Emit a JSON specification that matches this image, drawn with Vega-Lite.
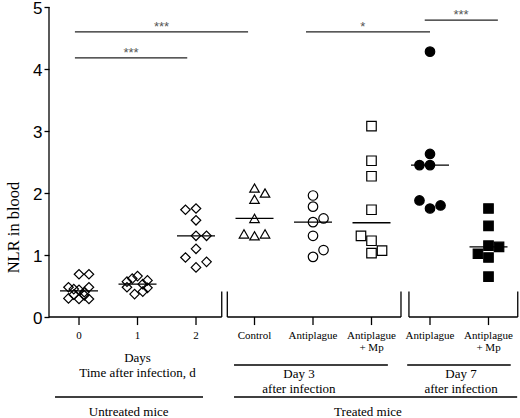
{
  "$schema": "https://vega.github.io/schema/vega-lite/v6.json",
  "description": "NLR in blood of untreated and treated mice, dot plot with medians.",
  "width": 466,
  "height": 418,
  "padding": {"left": 49, "top": 0, "right": 5, "bottom": 0},
  "autosize": {"type": "none"},
  "background": "white",
  "config": {
    "view": {"stroke": null},
    "axisY": {
      "domain": false, "grid": false,
      "tickSize": 5, "tickWidth": 1.3, "tickColor": "black",
      "labelFont": "Liberation Sans", "labelFontSize": 17, "labelColor": "black", "labelPadding": 2, "labelOffset": 1,
      "titleFont": "Liberation Serif", "titleFontSize": 16.5, "titleFontWeight": "normal", "titleColor": "black",
      "titleX": -36, "titleY": 227, "titleAngle": -90, "titleAlign": "center", "titleBaseline": "middle"
    }
  },
  "datasets": {
    "points": [
      {"grp": "Day 0", "g": 0, "x": 0.0, "y": 0.69},
      {"grp": "Day 0", "g": 0, "x": 0.17, "y": 0.69},
      {"grp": "Day 0", "g": 0, "x": -0.18, "y": 0.48},
      {"grp": "Day 0", "g": 0, "x": 0.17, "y": 0.48},
      {"grp": "Day 0", "g": 0, "x": -0.09, "y": 0.45},
      {"grp": "Day 0", "g": 0, "x": 0.0, "y": 0.44},
      {"grp": "Day 0", "g": 0, "x": 0.09, "y": 0.40},
      {"grp": "Day 0", "g": 0, "x": -0.09, "y": 0.36},
      {"grp": "Day 0", "g": 0, "x": 0.09, "y": 0.35},
      {"grp": "Day 0", "g": 0, "x": -0.18, "y": 0.30},
      {"grp": "Day 0", "g": 0, "x": 0.0, "y": 0.29},
      {"grp": "Day 0", "g": 0, "x": 0.17, "y": 0.29},
      {"grp": "Day 1", "g": 1, "x": 0.91, "y": 0.62},
      {"grp": "Day 1", "g": 1, "x": 1.0, "y": 0.66},
      {"grp": "Day 1", "g": 1, "x": 1.17, "y": 0.59},
      {"grp": "Day 1", "g": 1, "x": 0.82, "y": 0.57},
      {"grp": "Day 1", "g": 1, "x": 1.09, "y": 0.53},
      {"grp": "Day 1", "g": 1, "x": 0.82, "y": 0.48},
      {"grp": "Day 1", "g": 1, "x": 1.17, "y": 0.47},
      {"grp": "Day 1", "g": 1, "x": 1.09, "y": 0.41},
      {"grp": "Day 1", "g": 1, "x": 0.95, "y": 0.37},
      {"grp": "Day 2", "g": 2, "x": 1.82, "y": 1.73},
      {"grp": "Day 2", "g": 2, "x": 2.0, "y": 1.75},
      {"grp": "Day 2", "g": 2, "x": 2.0, "y": 1.56},
      {"grp": "Day 2", "g": 2, "x": 2.0, "y": 1.31},
      {"grp": "Day 2", "g": 2, "x": 2.18, "y": 1.31},
      {"grp": "Day 2", "g": 2, "x": 2.0, "y": 1.10},
      {"grp": "Day 2", "g": 2, "x": 1.82, "y": 0.96},
      {"grp": "Day 2", "g": 2, "x": 2.18, "y": 0.89},
      {"grp": "Day 2", "g": 2, "x": 2.0, "y": 0.80},
      {"grp": "Control", "g": 3, "x": 3.0, "y": 2.08},
      {"grp": "Control", "g": 3, "x": 3.18, "y": 2.00},
      {"grp": "Control", "g": 3, "x": 3.0, "y": 1.90},
      {"grp": "Control", "g": 3, "x": 3.0, "y": 1.59},
      {"grp": "Control", "g": 3, "x": 2.82, "y": 1.34},
      {"grp": "Control", "g": 3, "x": 3.0, "y": 1.31},
      {"grp": "Control", "g": 3, "x": 3.18, "y": 1.34},
      {"grp": "Antiplague d3", "g": 4, "x": 4.0, "y": 1.96},
      {"grp": "Antiplague d3", "g": 4, "x": 4.0, "y": 1.78},
      {"grp": "Antiplague d3", "g": 4, "x": 4.18, "y": 1.59},
      {"grp": "Antiplague d3", "g": 4, "x": 4.0, "y": 1.53},
      {"grp": "Antiplague d3", "g": 4, "x": 4.0, "y": 1.31},
      {"grp": "Antiplague d3", "g": 4, "x": 4.18, "y": 1.08},
      {"grp": "Antiplague d3", "g": 4, "x": 4.0, "y": 0.97},
      {"grp": "Antiplague + Mp d3", "g": 5, "x": 5.0, "y": 3.08},
      {"grp": "Antiplague + Mp d3", "g": 5, "x": 5.0, "y": 2.52},
      {"grp": "Antiplague + Mp d3", "g": 5, "x": 5.0, "y": 2.27},
      {"grp": "Antiplague + Mp d3", "g": 5, "x": 5.0, "y": 1.73},
      {"grp": "Antiplague + Mp d3", "g": 5, "x": 4.82, "y": 1.31},
      {"grp": "Antiplague + Mp d3", "g": 5, "x": 5.0, "y": 1.23},
      {"grp": "Antiplague + Mp d3", "g": 5, "x": 5.18, "y": 1.07},
      {"grp": "Antiplague + Mp d3", "g": 5, "x": 5.0, "y": 1.03},
      {"grp": "Antiplague d7", "g": 6, "x": 6.0, "y": 4.28},
      {"grp": "Antiplague d7", "g": 6, "x": 6.0, "y": 2.63},
      {"grp": "Antiplague d7", "g": 6, "x": 5.82, "y": 2.45},
      {"grp": "Antiplague d7", "g": 6, "x": 6.0, "y": 2.45},
      {"grp": "Antiplague d7", "g": 6, "x": 5.82, "y": 1.88},
      {"grp": "Antiplague d7", "g": 6, "x": 6.18, "y": 1.80},
      {"grp": "Antiplague d7", "g": 6, "x": 6.0, "y": 1.75},
      {"grp": "Antiplague + Mp d7", "g": 7, "x": 7.0, "y": 1.75},
      {"grp": "Antiplague + Mp d7", "g": 7, "x": 7.0, "y": 1.47},
      {"grp": "Antiplague + Mp d7", "g": 7, "x": 7.0, "y": 1.15},
      {"grp": "Antiplague + Mp d7", "g": 7, "x": 7.18, "y": 1.13},
      {"grp": "Antiplague + Mp d7", "g": 7, "x": 6.82, "y": 1.02},
      {"grp": "Antiplague + Mp d7", "g": 7, "x": 7.0, "y": 0.96},
      {"grp": "Antiplague + Mp d7", "g": 7, "x": 7.0, "y": 0.65}
    ],
    "cats": [
      {"x": 0, "label": "0"},
      {"x": 1, "label": "1"},
      {"x": 2, "label": "2"},
      {"x": 3, "label": "Control"},
      {"x": 4, "label": "Antiplague"},
      {"x": 5, "label": "Antiplague\n+ Mp"},
      {"x": 6, "label": "Antiplague"},
      {"x": 7, "label": "Antiplague\n+ Mp"}
    ],
    "lines": [
      {"x": -0.513, "x2": -0.513, "y": 0, "y2": 5},
      {"x": -0.513, "x2": 2.44, "y": 0, "y2": 0},
      {"x": 2.44, "x2": 2.44, "y": 0, "y2": 0.41},
      {"x": 2.535, "x2": 5.504, "y": 0, "y2": 0},
      {"x": 2.535, "x2": 2.535, "y": 0, "y2": 0.41},
      {"x": 5.504, "x2": 5.504, "y": 0, "y2": 0.41},
      {"x": 5.64, "x2": 7.5, "y": 0, "y2": 0},
      {"x": 5.64, "x2": 5.64, "y": 0, "y2": 0.41},
      {"x": 7.5, "x2": 7.5, "y": 0, "y2": 0.41},
      {"x": -0.41, "x2": 2.12, "y": -1.29, "y2": -1.29},
      {"x": 2.65, "x2": 5.28, "y": -0.774, "y2": -0.774},
      {"x": 5.61, "x2": 7.38, "y": -0.774, "y2": -0.774},
      {"x": 2.65, "x2": 7.49, "y": -1.29, "y2": -1.29}
    ],
    "sig": [
      {"x": -0.07, "x2": 2.89, "y": 4.6, "mid": 1.41, "label": "***"},
      {"x": -0.07, "x2": 1.85, "y": 4.18, "mid": 0.89, "label": "***"},
      {"x": 3.88, "x2": 6.0, "y": 4.6, "mid": 4.85, "label": "*"},
      {"x": 5.91, "x2": 7.16, "y": 4.79, "mid": 6.53, "label": "***"}
    ],
    "notes": [
      {"x": 1.0, "y": -0.72, "label": "Days\nTime after infection, d"},
      {"x": 3.76, "y": -0.976, "label": "Day 3\nafter infection"},
      {"x": 6.53, "y": -0.976, "label": "Day 7\nafter infection"},
      {"x": 0.85, "y": -1.59, "label": "Untreated mice"},
      {"x": 4.94, "y": -1.59, "label": "Treated mice"}
    ]
  },
  "encoding": {
    "x": {"field": "x", "type": "quantitative", "scale": {"domain": [-0.513, 7.453], "nice": false, "zero": false}, "axis": null}
  },
  "layer": [
    {
      "data": {"name": "lines"},
      "mark": {"type": "rule", "color": "black", "strokeWidth": 1.3},
      "encoding": {
        "y": {"field": "y", "type": "quantitative", "title": "NLR in blood", "scale": {"domain": [-1.629, 5.113], "nice": false, "zero": false}, "axis": {"values": [0, 1, 2, 3, 4, 5]}},
        "x2": {"field": "x2"}, "y2": {"field": "y2"}
      }
    },
    {
      "data": {"name": "cats"},
      "mark": {"type": "rule", "color": "black", "strokeWidth": 1.3},
      "encoding": {
        "y": {"datum": 0, "type": "quantitative", "title": "NLR in blood", "scale": {"domain": [-1.629, 5.113], "nice": false, "zero": false}, "axis": {"values": [0, 1, 2, 3, 4, 5]}},
        "y2": {"datum": -0.13}
      }
    },
    {
      "data": {"name": "cats"},
      "mark": {"type": "text", "font": "Liberation Serif", "fontSize": 11, "color": "black", "align": "center", "baseline": "alphabetic", "lineBreak": "\n", "lineHeight": 12},
      "encoding": {
        "y": {"datum": -0.355, "type": "quantitative", "title": "NLR in blood", "scale": {"domain": [-1.629, 5.113], "nice": false, "zero": false}, "axis": {"values": [0, 1, 2, 3, 4, 5]}},
        "text": {"field": "label"}
      }
    },
    {
      "data": {"name": "notes"},
      "mark": {"type": "text", "font": "Liberation Serif", "fontSize": 13, "color": "black", "align": "center", "baseline": "alphabetic", "lineBreak": "\n", "lineHeight": 15.5},
      "encoding": {
        "y": {"field": "y", "type": "quantitative", "title": "NLR in blood", "scale": {"domain": [-1.629, 5.113], "nice": false, "zero": false}, "axis": {"values": [0, 1, 2, 3, 4, 5]}},
        "text": {"field": "label"}
      }
    },
    {
      "data": {"name": "sig"},
      "mark": {"type": "rule", "color": "#222222", "strokeWidth": 1.2},
      "encoding": {
        "y": {"field": "y", "type": "quantitative", "title": "NLR in blood", "scale": {"domain": [-1.629, 5.113], "nice": false, "zero": false}, "axis": {"values": [0, 1, 2, 3, 4, 5]}},
        "x2": {"field": "x2"}
      }
    },
    {
      "data": {"name": "sig"},
      "mark": {"type": "text", "font": "Liberation Sans", "fontSize": 13, "color": "#555555", "align": "center", "baseline": "alphabetic", "dy": -1},
      "encoding": {
        "x": {"field": "mid", "type": "quantitative"},
        "y": {"field": "y", "type": "quantitative", "title": "NLR in blood", "scale": {"domain": [-1.629, 5.113], "nice": false, "zero": false}, "axis": {"values": [0, 1, 2, 3, 4, 5]}},
        "text": {"field": "label"}
      }
    },
    {
      "data": {"name": "points"},
      "transform": [{"aggregate": [{"op": "median", "field": "y", "as": "y"}], "groupby": ["g"]}],
      "mark": {"type": "tick", "orient": "horizontal", "size": 38, "thickness": 1.3, "color": "black", "opacity": 1},
      "encoding": {
        "x": {"field": "g", "type": "quantitative"},
        "y": {"field": "y", "type": "quantitative", "title": "NLR in blood", "scale": {"domain": [-1.629, 5.113], "nice": false, "zero": false}, "axis": {"values": [0, 1, 2, 3, 4, 5]}}
      }
    },
    {
      "data": {"name": "points"},
      "mark": {"type": "point", "filled": true, "stroke": "black", "strokeWidth": 1.2, "opacity": 1},
      "encoding": {
        "y": {"field": "y", "type": "quantitative", "title": "NLR in blood", "scale": {"domain": [-1.629, 5.113], "nice": false, "zero": false}, "axis": {"values": [0, 1, 2, 3, 4, 5]}},
        "shape": {"field": "grp", "type": "nominal", "legend": null, "scale": {
          "domain": ["Day 0", "Day 1", "Day 2", "Control", "Antiplague d3", "Antiplague + Mp d3", "Antiplague d7", "Antiplague + Mp d7"],
          "range": ["diamond", "diamond", "diamond", "triangle-up", "circle", "square", "circle", "square"]}},
        "fill": {"field": "grp", "type": "nominal", "legend": null, "scale": {
          "domain": ["Day 0", "Day 1", "Day 2", "Control", "Antiplague d3", "Antiplague + Mp d3", "Antiplague d7", "Antiplague + Mp d7"],
          "range": ["transparent", "transparent", "transparent", "transparent", "transparent", "transparent", "black", "black"]}},
        "size": {"field": "grp", "type": "nominal", "legend": null, "scale": {
          "domain": ["Day 0", "Day 1", "Day 2", "Control", "Antiplague d3", "Antiplague + Mp d3", "Antiplague d7", "Antiplague + Mp d7"],
          "range": [90, 90, 90, 60, 62, 55, 50, 44]}}
      }
    }
  ]
}
